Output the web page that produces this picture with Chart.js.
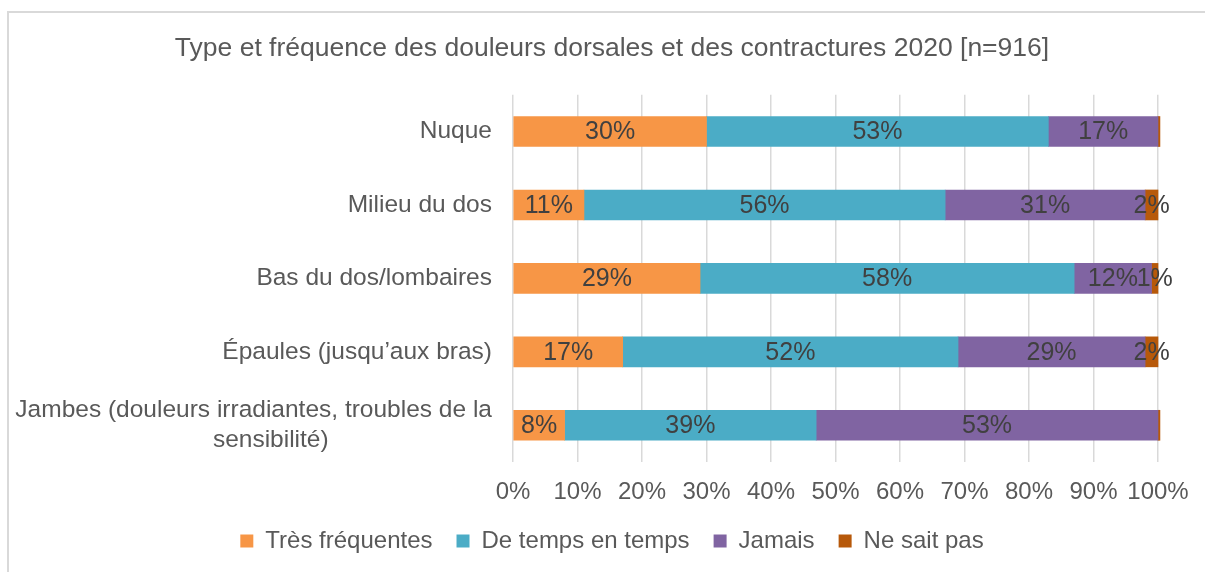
<!DOCTYPE html>
<html>
<head>
<meta charset="utf-8">
<script src="https://cdn.jsdelivr.net/npm/chart.js@4.4.1/dist/chart.umd.min.js"></script>
<style>
  html, body { margin: 0; background: #fff; overflow: hidden; }
  .frame { position: absolute; left: 7px; top: 11px; width: 1400px; height: 800px; border: 2px solid #d9d9d9; }
  #chart { position: absolute; left: 0; top: 0; }
</style>
</head>
<body>
<div class="frame"></div>
<canvas id="chart" width="1205" height="572"></canvas>
<script>
// categories (second line of the long label is padded so it sits roughly centred like Excel)
const categories = [
  'Nuque',
  'Milieu du dos',
  'Bas du dos/lombaires',
  'Épaules (jusqu’aux bras)',
  ['Jambes (douleurs irradiantes, troubles de la', 'sensibilité)' + ' '.repeat(24)]
];
const seriesNames = ['Très fréquentes', 'De temps en temps', 'Jamais', 'Ne sait pas'];
const tresFrequentes = [30, 11, 29, 17, 8];
const deTempsEnTemps = [53, 56, 58, 52, 39];
const jamais = [17, 31, 12, 29, 53];
const neSaitPas = [0.3, 2, 1, 2, 0.3];
const xTicks = [0, 10, 20, 30, 40, 50, 60, 70, 80, 90, 100];

const colors = ['#F79646', '#4BACC6', '#8064A2', '#B7590A'];
const font = 'Liberation Sans, Arial, sans-serif';

// value labels in the middle of each segment
const segmentLabels = {
  id: 'segmentLabels',
  afterDatasetsDraw(chart) {
    const ctx = chart.ctx;
    ctx.save();
    ctx.font = '25px ' + font;
    ctx.fillStyle = '#404040';
    ctx.textAlign = 'center';
    ctx.textBaseline = 'middle';
    chart.data.datasets.forEach((ds, i) => {
      chart.getDatasetMeta(i).data.forEach((bar, j) => {
        const v = ds.data[j];
        if (v < 0.5) return;
        const p = bar.getCenterPoint();
        ctx.fillText(Math.round(v) + '%', p.x, p.y + 1);
      });
    });
    ctx.restore();
  }
};

const allSeries = [tresFrequentes, deTempsEnTemps, jamais, neSaitPas];

new Chart(document.getElementById('chart'), {
  type: 'bar',
  data: {
    labels: categories,
    datasets: allSeries.map((d, i) => ({
      label: seriesNames[i],
      data: d,
      backgroundColor: colors[i],
      barThickness: 30,
      clip: false
    }))
  },
  options: {
    indexAxis: 'y',
    responsive: false,
    animation: false,
    // left padding is wide so title/legend centre like the original; the y labels overflow into it
    layout: { padding: { left: 66, right: 47, top: 0, bottom: 9 } },
    scales: {
      x: {
        stacked: true,
        min: 0,
        max: 100,
        afterBuildTicks: (scale) => { scale.ticks = xTicks.map(v => ({ value: v })); },
        afterFit: (scale) => {
          scale.height = 43;
          scale.paddingLeft = 0;
          scale.paddingRight = 0;
        },
        grid: { color: '#d9d9d9', lineWidth: 1.5, drawTicks: false },
        border: { display: false },
        ticks: {
          padding: 16,
          autoSkip: false,
          minRotation: 0,
          maxRotation: 0,
          color: '#595959',
          font: { family: font, size: 24 },
          callback: (v) => v + '%'
        }
      },
      y: {
        stacked: true,
        grid: { display: false, drawTicks: false },
        border: { display: false },
        afterFit: (scale) => {
          scale.width = 447;
          scale._computeLabelArea = () => undefined; // let long labels spill left without clipping
        },
        ticks: {
          padding: 21,
          color: '#595959',
          font: { family: font, size: 24.5 }
        }
      }
    },
    plugins: {
      title: {
        display: true,
        text: 'Type et fréquence des douleurs dorsales et des contractures 2020 [n=916]',
        color: '#595959',
        font: { family: font, size: 26.5, weight: 'normal' },
        padding: { top: 33, bottom: 30 }
      },
      legend: {
        position: 'bottom',
        labels: {
          color: '#595959',
          font: { family: font, size: 24 },
          boxWidth: 13,
          boxHeight: 13,
          padding: 24
        }
      },
      tooltip: { enabled: false }
    }
  },
  plugins: [segmentLabels]
});
</script>
</body>
</html>
